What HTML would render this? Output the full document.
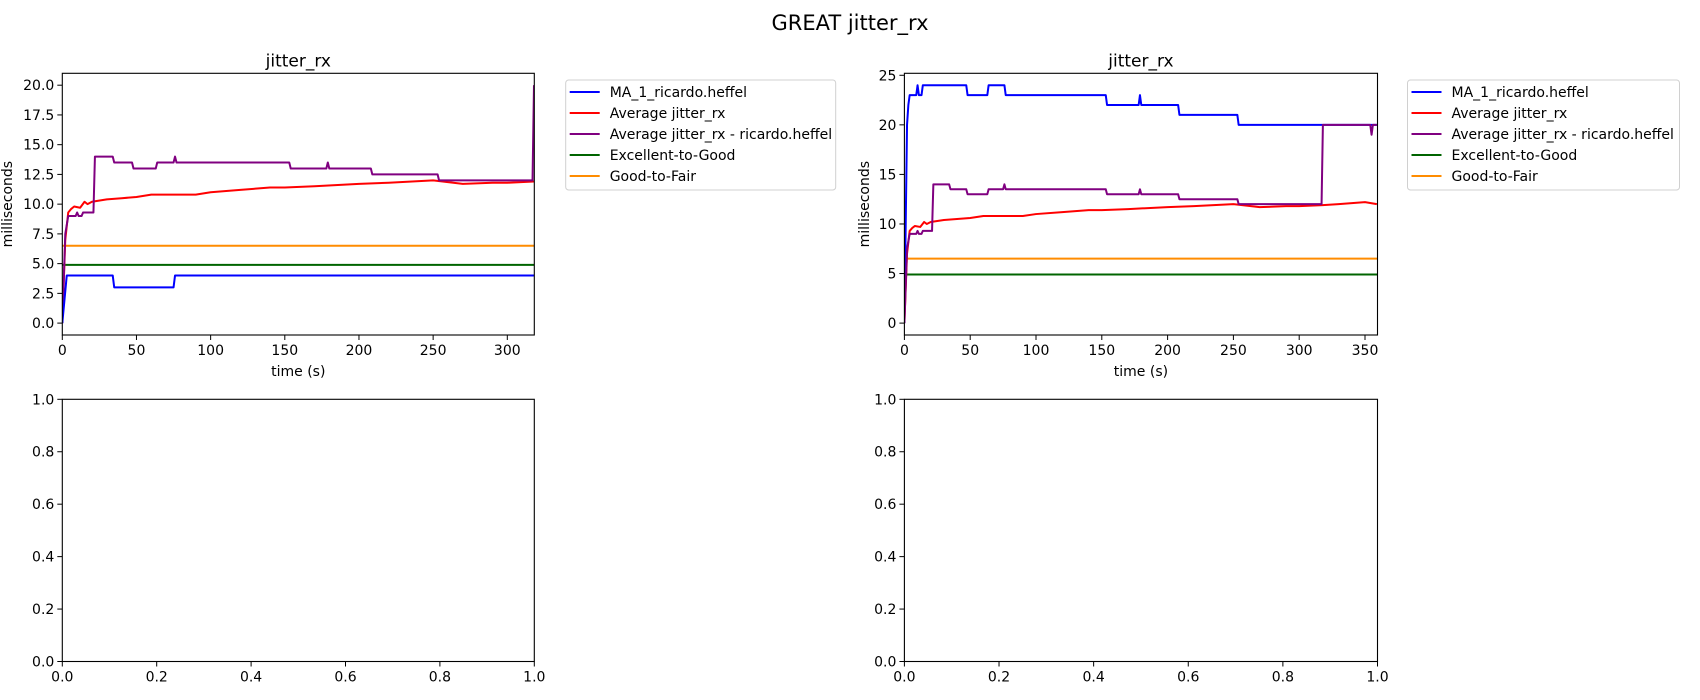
<!DOCTYPE html>
<html><head><meta charset="utf-8"><style>
body{margin:0;background:#fff;}
svg{display:block;font-family:"DejaVu Sans","Liberation Sans",sans-serif;}
</style></head><body>
<svg id="fig" width="1700" height="700" viewBox="0 0 1700 700" xmlns="http://www.w3.org/2000/svg">
<rect width="1700" height="700" fill="#fff"/>
<text x="850" y="30" font-size="21" text-anchor="middle" fill="#000">GREAT jitter_rx</text>
</svg>
<script>
// ---- data: left chart ----
const leftBlueX=[0,3,34,35,75,76,318];
const leftBlueY=[0,4,4,3,3,4,4];
const leftPurpleX=[0,2,4,9,10,11,13,14,21,22,34,35,47,48,63,64,75,76,77,153,154,178,179,180,208,209,253,254,317,318];
const leftPurpleY=[0,7.5,9,9,9.3,9,9,9.3,9.3,14,14,13.5,13.5,13,13,13.5,13.5,14,13.5,13.5,13,13,13.5,13,13,12.5,12.5,12,12,20];
const leftRedX=[0,2,4,6,8,12,15,17,20,30,40,50,60,70,90,100,120,140,150,170,200,220,250,270,290,300,318];
const leftRedY=[0,7,9.3,9.6,9.8,9.7,10.2,10,10.2,10.4,10.5,10.6,10.8,10.8,10.8,11,11.2,11.4,11.4,11.5,11.7,11.8,12,11.7,11.8,11.8,11.9];
// ---- data: right chart ----
const rightBlueX=[0,2,3,4,9,10,11,13,14,47,48,63,64,76,77,153,154,178,179,180,208,209,253,254,359];
const rightBlueY=[0,20,22,23,23,24,23,23,24,24,23,23,24,24,23,23,22,22,23,22,22,21,21,20,20];
const rightPurpleX=[0,2,4,9,10,11,13,14,21,22,34,35,47,48,63,64,75,76,77,153,154,178,179,180,208,209,253,254,317,318,354,355,356,359];
const rightPurpleY=[0,7.5,9,9,9.3,9,9,9.3,9.3,14,14,13.5,13.5,13,13,13.5,13.5,14,13.5,13.5,13,13,13.5,13,13,12.5,12.5,12,12,20,20,19,20,20];
const rightRedX=[0,2,4,6,8,12,15,17,20,30,40,50,60,70,90,100,120,140,150,170,200,220,250,270,290,300,318,330,340,350,359];
const rightRedY=[0,7,9.3,9.6,9.8,9.7,10.2,10,10.2,10.4,10.5,10.6,10.8,10.8,10.8,11,11.2,11.4,11.4,11.5,11.7,11.8,12,11.7,11.8,11.8,11.9,12,12.1,12.2,12];
const thresholds=[4.9,6.5];
const leftYTicks=[0,2.5,5,7.5,10,12.5,15,17.5,20];
const leftXTicks=[0,50,100,150,200,250,300];
const rightYTicks=[0,5,10,15,20,25];
const rightXTicks=[0,50,100,150,200,250,300,350];
const emptyTicks=[0,0.2,0.4,0.6,0.8,1.0];
const legendLabels=["MA_1_ricardo.heffel","Average jitter_rx","Average jitter_rx - ricardo.heffel","Excellent-to-Good","Good-to-Fair"];
const legendColors=["#0000ff","#ff0000","#800080","#006400","#ff8c00"];

const NS="http://www.w3.org/2000/svg";
const fig=document.getElementById('fig');
function mk(tag,attrs,parent){const e=document.createElementNS(NS,tag);for(const k in attrs)e.setAttribute(k,attrs[k]);(parent||fig).appendChild(e);return e;}

function axes(o){
  const g=mk('g',{});
  
  
  const sx=v=>o.x0+(v-o.xmin)/(o.xmax-o.xmin)*(o.x1-o.x0);
  const sy=v=>o.y1-(v-o.ymin)/(o.ymax-o.ymin)*(o.y1-o.y0);
  const clip='c'+o.name;
  const cp=mk('clipPath',{id:clip},g);mk('rect',{x:o.x0,y:o.y0,width:o.x1-o.x0,height:o.y1-o.y0},cp);
  const pg=mk('g',{'clip-path':'url(#'+clip+')'},g);
  (o.hlines||[]).forEach(h=>{
    const l=mk('line',{x1:o.x0,x2:o.x1,y1:sy(h.v),y2:sy(h.v),stroke:h.c,'stroke-width':2},pg);
    
    
  });
  (o.series||[]).forEach(s=>{
    const pts=s.x.map((x,i)=>sx(x).toFixed(2)+','+sy(s.y[i]).toFixed(2)).join(' ');
    const p=mk('polyline',{points:pts,fill:'none',stroke:s.c,'stroke-width':2,'stroke-linejoin':'round'},pg);
    
    
  });
  mk('rect',{x:o.x0,y:o.y0,width:o.x1-o.x0,height:o.y1-o.y0,fill:'none',stroke:'#000','stroke-width':1.1},g);
  o.xt.forEach((t,i)=>{
    const x=sx(t);
    mk('line',{x1:x,x2:x,y1:o.y1,y2:o.y1+5,stroke:'#000','stroke-width':1},g);
    const tx=mk('text',{x:x,y:o.y1+20,'font-size':14,'text-anchor':'middle'},g);
    tx.textContent=o.xl?o.xl[i]:String(t);
    
    
  });
  o.yt.forEach((t,i)=>{
    const y=sy(t);
    mk('line',{x1:o.x0-5,x2:o.x0,y1:y,y2:y,stroke:'#000','stroke-width':1},g);
    const tx=mk('text',{x:o.x0-8,y:y+5,'font-size':14,'text-anchor':'end'},g);
    tx.textContent=o.yl?o.yl[i]:String(t);
    
    
  });
  if(o.title){const t=mk('text',{x:(o.x0+o.x1)/2,y:o.y0-7,'font-size':17,'text-anchor':'middle'},g);t.textContent=o.title;
    
    }
  if(o.xlabel){const t=mk('text',{x:(o.x0+o.x1)/2,y:o.y1+41,'font-size':14,'text-anchor':'middle'},g);t.textContent=o.xlabel;
    
    }
  if(o.ylabel){const cx=o.ylx,cy=(o.y0+o.y1)/2;const t=mk('text',{x:cx,y:cy,'font-size':14,'text-anchor':'middle',transform:'rotate(-90 '+cx+' '+cy+')'},g);t.textContent=o.ylabel;
    
    }
}
function legend(x,y,w){
  const g=mk('g',{});
  
  
  mk('rect',{x:x,y:y,width:w,height:110,rx:3,fill:'#fff',stroke:'#d0d0d0','stroke-width':1},g);
  legendLabels.forEach((lab,i)=>{
    const yy=y+12+i*21;
    const e=mk('g',{},g);
    
    
    mk('line',{x1:x+4,x2:x+34,y1:yy,y2:yy,stroke:legendColors[i],'stroke-width':2},e);
    const t=mk('text',{x:x+44,y:yy+5,'font-size':14},e);t.textContent=lab;
  });
}
const lines=c=>[{v:thresholds[0],c:legendColors[3],n:'excellent-to-good-line'},{v:thresholds[1],c:legendColors[4],n:'good-to-fair-line'}];
const fmt1=a=>a.map(v=>v.toFixed(1));
axes({name:'left-chart',x0:62.3,x1:534.3,y0:73.3,y1:335,xmin:0,xmax:318.2,ymin:-1,ymax:21,xt:leftXTicks,yt:leftYTicks,yl:fmt1(leftYTicks),
  title:'jitter_rx',xlabel:'time (s)',ylabel:'milliseconds',ylx:12,hlines:lines(),
  series:[{x:leftRedX,y:leftRedY,c:'#ff0000',n:'average-jitter-line'},{x:leftPurpleX,y:leftPurpleY,c:'#800080',n:'user-average-jitter-line'},{x:leftBlueX,y:leftBlueY,c:'#0000ff',n:'ma-1-line'}]});
axes({name:'right-chart',x0:904.4,x1:1377.5,y0:73.3,y1:335,xmin:0,xmax:359.5,ymin:-1.2,ymax:25.2,xt:rightXTicks,yt:rightYTicks,
  title:'jitter_rx',xlabel:'time (s)',ylabel:'milliseconds',ylx:869,hlines:lines(),
  series:[{x:rightRedX,y:rightRedY,c:'#ff0000',n:'average-jitter-line'},{x:rightBlueX,y:rightBlueY,c:'#0000ff',n:'ma-1-line'},{x:rightPurpleX,y:rightPurpleY,c:'#800080',n:'user-average-jitter-line'}]});
axes({name:'bottom-left-empty-axes',x0:62.3,x1:534.3,y0:399.3,y1:661.5,xmin:0,xmax:1,ymin:0,ymax:1,xt:emptyTicks,yt:emptyTicks,xl:fmt1(emptyTicks),yl:fmt1(emptyTicks)});
axes({name:'bottom-right-empty-axes',x0:904.4,x1:1377.5,y0:399.3,y1:661.5,xmin:0,xmax:1,ymin:0,ymax:1,xt:emptyTicks,yt:emptyTicks,xl:fmt1(emptyTicks),yl:fmt1(emptyTicks)});
legend(565.7,80,270);
legend(1407.5,80,272);
</script>
</body></html>
